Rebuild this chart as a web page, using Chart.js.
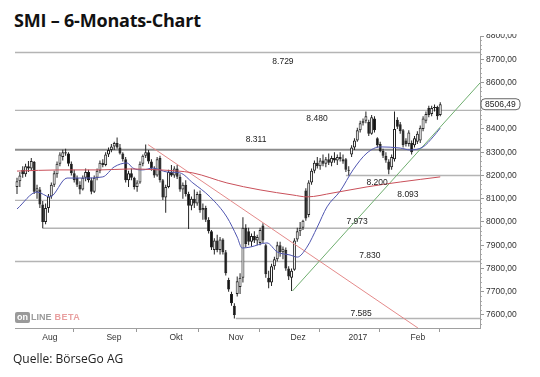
<!DOCTYPE html>
<html><head><meta charset="utf-8">
<script src="https://cdn.jsdelivr.net/npm/chart.js@4"></script>
<style>
html,body{margin:0;padding:0;background:#fff;width:540px;height:377px;overflow:hidden;position:relative}
#title{position:absolute;left:14px;top:8px;font:bold 18px 'Open Sans',sans-serif;color:#111;white-space:nowrap;letter-spacing:-0.2px}
#src{position:absolute;left:13px;top:350px;font:12px 'Open Sans',sans-serif;color:#222;white-space:nowrap}
#wrap{position:absolute;left:0;top:34px;width:540px;height:343px}
#logo{position:absolute;left:15px;top:312px;height:11px;font:bold 9px 'Liberation Sans',sans-serif;white-space:nowrap;line-height:11px}
#logo .on{display:inline-block;background:#9a9a9a;color:#fff;padding:0 2px;border-radius:2px;height:11px}
#logo .ln{color:#9a9a9a;margin-left:1px}
#logo .bt{color:#e9a0a0;margin-left:3px;letter-spacing:0.5px}
</style></head>
<body>
<div id="title">SMI – 6-Monats-Chart</div>
<div id="wrap"><canvas id="c" width="540" height="343"></canvas></div>
<div id="logo"><span class="on">on</span><span class="ln">LINE</span><span class="bt">BETA</span></div>
<div id="src">Quelle: BörseGo AG</div>
<script>
// ---- data ----
const opens  = [8150,8175,8225,8205,8240,8230,8258,8130,8140,8075,8000,8060,8110,8160,8205,8250,8280,8300,8295,8250,
8210,8190,8160,8140,8190,8215,8180,8130,8190,8220,8255,8245,8290,8310,8325,8340,8320,8295,8270,8180,
8210,8190,8150,8170,8250,8285,8300,8260,8230,8200,8275,8180,8105,8150,8215,8200,8230,8195,8140,8160,
8120,8070,8100,8080,8120,8050,8060,8010,7960,7880,7920,7880,7925,7870,7750,7690,7640,7690,7720,7760,
7975,7960,7915,7940,7920,7910,7985,7900,7760,7740,7810,7840,7900,7870,7880,7800,7760,7795,7925,7960,
7975,8135,8030,8170,8220,8255,8240,8265,8250,8270,8255,8275,8265,8280,8270,8270,8225,8290,8320,8350,
8395,8425,8435,8430,8380,8445,8360,8335,8305,8285,8260,8235,8270,8440,8420,8395,8350,8335,8340,8330,
8345,8350,8400,8435,8490,8465,8490,8495,8460];
const highs  = [8190,8215,8240,8250,8262,8275,8262,8160,8150,8090,8080,8120,8170,8220,8260,8300,8311,8315,8300,8260,
8225,8200,8175,8200,8230,8225,8190,8200,8230,8265,8270,8300,8320,8335,8345,8363,8335,8300,8280,8220,
8230,8195,8180,8260,8290,8333,8310,8270,8240,8280,8285,8185,8160,8225,8245,8240,8245,8205,8170,8180,
8130,8110,8140,8130,8135,8080,8070,8020,7965,7930,7945,7935,7930,7880,7760,7700,7650,7765,7780,8020,
7990,7975,7950,7960,7945,7975,7995,7905,7790,7820,7850,7915,7915,7895,7890,7810,7800,7930,7975,8000,
8010,8145,8180,8230,8265,8280,8275,8290,8280,8295,8285,8300,8290,8300,8290,8275,8240,8330,8360,8405,
8435,8445,8475,8440,8460,8455,8365,8345,8315,8300,8270,8290,8475,8450,8430,8400,8360,8395,8350,8370,
8390,8415,8455,8475,8500,8500,8505,8500,8515];
const lows   = [8120,8150,8190,8195,8215,8220,8120,8100,8060,7973,7990,8040,8100,8150,8190,8240,8265,8285,8240,8200,
8170,8150,8119,8135,8175,8170,8119,8125,8180,8210,8235,8240,8280,8300,8310,8315,8290,8260,8170,8150,
8180,8140,8130,8165,8240,8275,8250,8220,8190,8195,8170,8095,8040,8145,8195,8190,8185,8130,8100,8110,
7970,8050,8060,8070,8040,8010,8000,7950,7880,7860,7870,7860,7860,7770,7700,7640,7585,7680,7690,7740,
7890,7900,7895,7910,7900,7900,7910,7760,7715,7725,7795,7830,7850,7840,7790,7750,7703,7790,7915,7940,
7965,8005,8020,8160,8210,8230,8225,8240,8235,8245,8240,8255,8245,8260,8250,8215,8200,8280,8310,8345,
8385,8415,8425,8370,8375,8385,8320,8300,8275,8255,8205,8225,8260,8400,8380,8320,8325,8325,8290,8320,
8335,8340,8390,8425,8450,8455,8475,8440,8455];
const closes = [8175,8200,8205,8240,8230,8262,8130,8145,8075,8000,8060,8110,8160,8210,8250,8290,8300,8295,8250,8210,
8180,8160,8140,8190,8215,8180,8130,8190,8220,8255,8245,8290,8310,8325,8340,8320,8295,8270,8180,8210,
8190,8150,8170,8250,8285,8300,8260,8230,8200,8270,8180,8105,8150,8215,8200,8230,8195,8140,8160,8120,
8070,8100,8080,8120,8050,8060,8010,7960,7890,7920,7880,7925,7870,7780,7710,7650,7600,7745,7760,7975,
7905,7915,7940,7920,7935,7965,7920,7775,7740,7810,7840,7900,7870,7885,7800,7765,7790,7920,7960,7975,
8005,8015,8170,8220,8255,8240,8265,8250,8270,8255,8275,8265,8280,8270,8260,8225,8220,8320,8350,8395,
8425,8435,8455,8380,8450,8395,8330,8305,8285,8265,8225,8280,8400,8410,8390,8330,8335,8385,8300,8360,
8380,8405,8445,8465,8460,8490,8495,8455,8506.49];

// moving averages (trading-day index, value)
const maBlueIdx = [0,7,11.5,17.5,23,30,34,38.5,40.5,44,47.5,52.5,57,61.5,67.5,73.4,77,78.7,81.5,87.4,91,95.5,98,101.4,105,108.4,113,117.5,122.4,127,134,137.4,142,145.5,148];
const maBlueVal = [8056,8129,8108,8189,8189,8194,8237,8254,8232,8224,8232,8215,8211,8168,8108,8021,7935,7888,7892,7910,7871,7858,7849,7892,7978,8065,8133,8224,8297,8323,8318,8310,8323,8366,8404];
const maRedIdx  = [0,15,29,39.5,50,61.5,73.4,85,96.5,101.4,110.5,122.4,134,148];
const maRedVal  = [8219,8224,8224,8228,8224,8211,8168,8138,8116,8108,8125,8151,8172,8194];

// trend lines (start / end)
const downTrendIdx = [45.8,140.2], downTrendVal = [8333,7544];
const upTrendIdx   = [96.3,161.9], upTrendVal   = [7703,8598];

// horizontal levels
const levels      = [8729,8480,8311,8200,8093,7973,7830,7585];
const levelLabels = ['8.729','8.480','8.311','8.200','8.093','7.973','7.830','7.585'];
const levelFrom   = [null,null,null,115,null,9,null,76.5];

// axes
const monthLabels = ['Aug','Sep','Okt','Nov','Dez','2017','Feb'];
const monthTickPos = [8.7,31.1,52.8,73.8,95.5,116.4,137.4];
const yTicks = [7600,7700,7800,7900,8000,8100,8200,8300,8400,8500,8600,8700,8800];

// ---- layout ----
const XMIN=-0.7, XMAX=161.9, YMIN=7544, YMAX=8800;
const labelAt = [93,104.9,83.6,125.9,136.7,118.9,123.4,120.3];
const labelDy = [9,8,-10,7,-6,-7,-6,-5];
const AX='Liberation Sans';

const N = opens.length;
const idx = opens.map((_,i)=>i);
const isUp = i => closes[i] >= opens[i];

const datasets = [];
levels.forEach((lv,k)=>{
  datasets.push({type:'line', data:[{x:levelFrom[k]===null?XMIN:levelFrom[k], y:lv},{x:XMAX,y:lv}],
    borderColor: lv===8311?'#8c8c8c':'#b4b4b4', borderWidth: lv===8311?2:1.4, pointRadius:0, order:10});
});
datasets.push({type:'line', data:maRedIdx.map((x,i)=>({x, y:maRedVal[i]})), borderColor:'#c9505a', borderWidth:1, pointRadius:0, tension:0.4, cubicInterpolationMode:'monotone', order:1});
datasets.push({type:'line', data:maBlueIdx.map((x,i)=>({x, y:maBlueVal[i]})), borderColor:'#4f55b0', borderWidth:1, pointRadius:0, cubicInterpolationMode:'monotone', order:1});
datasets.push({type:'line', data:downTrendIdx.map((x,i)=>({x, y:downTrendVal[i]})), borderColor:'#e48a8a', borderWidth:1, pointRadius:0, order:1});
datasets.push({type:'line', data:upTrendIdx.map((x,i)=>({x, y:upTrendVal[i]})), borderColor:'#6fae6f', borderWidth:1, pointRadius:0, order:1});
datasets.push({type:'bar', data:idx.map(i=>({x:i, y:[lows[i],highs[i]]})), backgroundColor:'#222', borderWidth:0, barThickness:1, grouped:false, inflateAmount:0, order:3});
datasets.push({type:'bar', data:idx.map(i=>({x:i, y:[opens[i],closes[i]]})),
  backgroundColor: c=> isUp(c.dataIndex)?'#ffffff':'#111111', borderColor:'#222', borderWidth:1, borderSkipped:false,
  barThickness:3, grouped:false, inflateAmount:0, order:2});

const annot = {
  id:'annot',
  afterDraw(chart){
    const {ctx, scales:{x,y}, chartArea} = chart;
    ctx.save();
    ctx.font = "8.5px '"+AX+"'"; ctx.fillStyle='#222'; ctx.textAlign='center'; ctx.textBaseline='middle';
    levels.forEach((lv,k)=>{ ctx.fillText(levelLabels[k], x.getPixelForValue(labelAt[k]), y.getPixelForValue(lv)+labelDy[k]); });
    const last = closes[N-1];
    const py = y.getPixelForValue(last);
    const bx = chartArea.right+1, bw = 39, bh = 11;
    ctx.beginPath(); ctx.roundRect(bx, py-bh/2, bw, bh, 4);
    ctx.fillStyle='#fff'; ctx.fill(); ctx.strokeStyle='#666'; ctx.lineWidth=1; ctx.stroke();
    ctx.fillStyle='#222'; ctx.textAlign='left';
    ctx.fillText(last.toFixed(2).replace('.',','), bx+4, py+0.5);
    ctx.restore();
  }
};

new Chart(document.getElementById('c'), {
  type:'bar',
  data:{datasets},
  options:{
    responsive:false, animation:false, events:[],
    layout:{padding:{left:15, top:2, right:0, bottom:0}},
    plugins:{legend:{display:false}, tooltip:{enabled:false}},
    scales:{
      x:{type:'linear', min:XMIN, max:XMAX, offset:false,
        afterBuildTicks:s=>{ s.ticks = monthTickPos.map(v=>({value:v})); },
        afterFit:s=>{ s.height = 49; s.paddingLeft=0; s.paddingRight=0; },
        ticks:{autoSkip:false, maxRotation:0, labelOffset:8, padding:1, color:'#333', font:{family:AX,size:8.5},
          callback:(v,i)=>monthLabels[i]},
        grid:{drawOnChartArea:false, drawTicks:true, tickLength:4, color:'#999'},
        border:{display:true, color:'#a0a0a0', width:1}},
      yMinor:{type:'linear', position:'right', weight:0, min:YMIN, max:YMAX,
        afterBuildTicks:s=>{ const t=[]; for(let v=7560; v<=8800; v+=20) t.push({value:v}); s.ticks=t; },
        afterFit:s=>{ s.width = 0; s.paddingTop=0; s.paddingBottom=0; },
        ticks:{display:false},
        grid:{drawOnChartArea:false, drawTicks:true, tickLength:2, color:'#b0b0b0'},
        border:{display:false}},
      y:{type:'linear', position:'right', weight:1, min:YMIN, max:YMAX,
        afterBuildTicks:s=>{ s.ticks = yTicks.map(v=>({value:v})); },
        afterFit:s=>{ s.width = 60; s.paddingTop=0; s.paddingBottom=0; },
        ticks:{padding:2, color:'#333', font:{family:AX,size:8.5}, callback:v=>v.toFixed(2).replace('.',',')},
        grid:{drawOnChartArea:false, drawTicks:true, tickLength:4, color:'#999'},
        border:{display:true, color:'#a0a0a0', width:1}}
    }
  },
  plugins:[annot]
});
</script>
</body></html>
